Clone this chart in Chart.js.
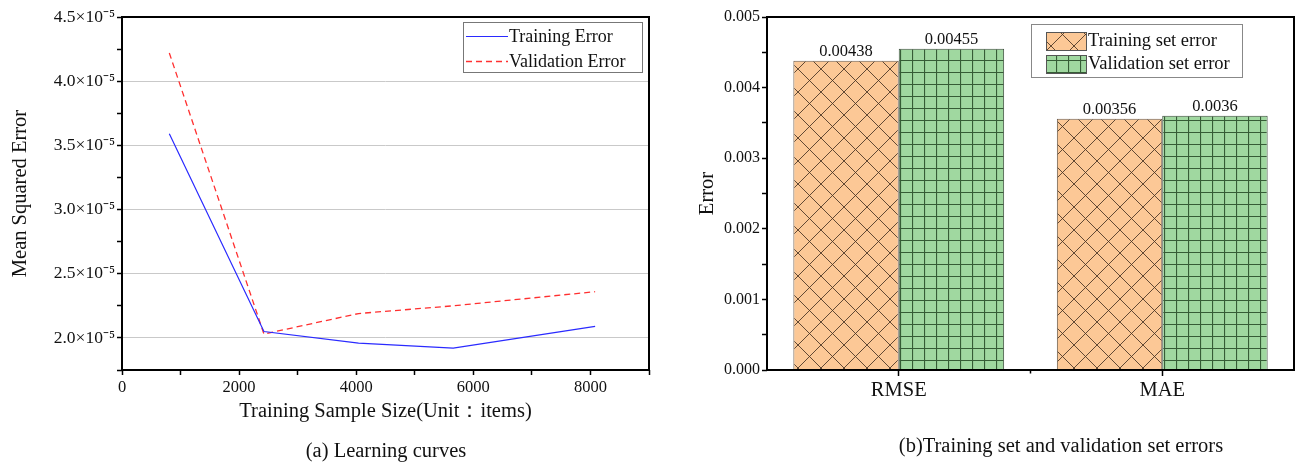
<!DOCTYPE html>
<html><head><meta charset="utf-8">
<script src="https://cdn.jsdelivr.net/npm/chart.js@4.4.1/dist/chart.umd.min.js"></script>
<style>
html,body{margin:0;padding:0;background:#fff;}
#wrap{position:relative;width:1306px;height:464px;overflow:hidden;font-family:'Liberation Serif','Times New Roman',serif;color:#111;background:#fff}
#c1{position:absolute;left:0;top:0}
#c2{position:absolute;left:660px;top:0}
.cap{position:absolute;font-size:20.5px;white-space:nowrap;transform:translate(-50%,-50%)}
</style></head><body>
<div id="wrap">
<canvas id="c1" width="660" height="464"></canvas>
<canvas id="c2" width="646" height="464"></canvas>
<div class="cap" style="left:386px;top:450px">(a) Learning curves</div>
<div class="cap" style="left:1061px;top:445px">(b)Training set and validation set errors</div>
</div>
<script>
// ---- data: learning curves ----
const sampleSizes = [808, 2424, 4040, 5656, 8080];
const trainingError = [3.59e-5, 2.05e-5, 1.96e-5, 1.92e-5, 2.09e-5];
const validationError = [4.22e-5, 2.03e-5, 2.19e-5, 2.25e-5, 2.36e-5];
const lineSeriesNames = ['Training Error', 'Validation Error'];
const lineXTitle = 'Training Sample Size(Unit\uFF1Aitems)';
const lineYTitle = 'Mean Squared Error';

// ---- data: error bars ----
const metricCategories = ['RMSE', 'MAE'];
const trainingSetError = [0.00438, 0.00356];
const validationSetError = [0.00455, 0.0036];
const barSeriesNames = ['Training set error', 'Validation set error'];
const barYTitle = 'Error';

const FONT = "'Liberation Serif','Times New Roman',serif";
const TXT = '#111';
Chart.defaults.font.family = FONT;
Chart.defaults.color = TXT;

function xPattern(bg, line, size) {
  const c = document.createElement('canvas'); c.width = c.height = size;
  const g = c.getContext('2d');
  g.fillStyle = bg; g.fillRect(0, 0, size, size);
  g.strokeStyle = line; g.lineWidth = 1;
  g.beginPath();
  g.moveTo(-2, -2); g.lineTo(size + 2, size + 2);
  g.moveTo(-2, size + 2); g.lineTo(size + 2, -2);
  g.stroke();
  return g.createPattern(c, 'repeat');
}
function gridPattern(bg, line, size) {
  const c = document.createElement('canvas'); c.width = c.height = size;
  const g = c.getContext('2d');
  g.fillStyle = bg; g.fillRect(0, 0, size, size);
  g.strokeStyle = line; g.lineWidth = 1.2;
  g.beginPath();
  g.moveTo(0.5, 0); g.lineTo(0.5, size);
  g.moveTo(0, 0.5); g.lineTo(size, 0.5);
  g.stroke();
  return g.createPattern(c, 'repeat');
}

const framePlugin = {
  id: 'frame',
  afterDatasetsDraw(chart) {
    const {ctx, chartArea: a} = chart;
    ctx.save();
    ctx.strokeStyle = '#000'; ctx.lineWidth = 2;
    ctx.strokeRect(a.left, a.top, a.right - a.left, a.bottom - a.top);
    ctx.restore();
  }
};

// legend for line chart
const lineLegendPlugin = {
  id: 'lineLegend',
  afterDraw(chart) {
    const {ctx, chartArea: a} = chart;
    const w = 179, h = 50;
    const x0 = a.right - 7 - w, y0 = a.top + 5;
    ctx.save();
    ctx.fillStyle = '#fff'; ctx.fillRect(x0, y0, w, h);
    ctx.strokeStyle = '#777'; ctx.lineWidth = 1;
    ctx.strokeRect(x0 + 0.5, y0 + 0.5, w, h);
    ctx.font = '18px ' + FONT; ctx.textBaseline = 'middle'; ctx.fillStyle = TXT;
    chart.data.datasets.forEach((ds, i) => {
      const y = y0 + 14.5 + i * 25;
      ctx.strokeStyle = ds.borderColor; ctx.lineWidth = ds.borderWidth;
      ctx.setLineDash(ds.borderDash || []);
      ctx.beginPath(); ctx.moveTo(x0 + 3, y); ctx.lineTo(x0 + 45, y); ctx.stroke();
      ctx.setLineDash([]);
      ctx.fillText(ds.label, x0 + 46, y + 1);
    });
    ctx.restore();
  }
};

const chart1 = new Chart(document.getElementById('c1'), {
  type: 'line',
  data: {
    datasets: [
      { label: lineSeriesNames[0], data: sampleSizes.map((x, i) => ({x, y: trainingError[i]})),
        borderColor: '#2a2aff', borderWidth: 1.2, pointRadius: 0, tension: 0, fill: false },
      { label: lineSeriesNames[1], data: sampleSizes.map((x, i) => ({x, y: validationError[i]})),
        borderColor: '#ff3030', borderWidth: 1.3, borderDash: [6, 4], pointRadius: 0, tension: 0, fill: false }
    ]
  },
  options: {
    responsive: false, animation: false, devicePixelRatio: 1,
    layout: { padding: { top: 17, right: 11, bottom: 40, left: 0 } },
    plugins: { legend: { display: false }, tooltip: { enabled: false } },
    scales: {
      x: {
        type: 'linear', min: 0, max: 9000,
        border: { display: false },
        grid: { drawOnChartArea: false, tickLength: 5, tickColor: '#000', tickWidth: 1.5 },
        ticks: { stepSize: 1000, autoSkip: false, maxRotation: 0, padding: 3, color: TXT, font: { size: 16.5 },
          callback: v => (v % 2000 === 0 && v < 9000) ? String(v) : '' },
        title: { display: true, text: lineXTitle, color: TXT, font: { size: 20.5 }, padding: 0 },
        afterFit: s => { s.height = 54; }
      },
      y: {
        min: 1.75e-5, max: 4.5e-5,
        border: { display: false },
        grid: {
          tickLength: 5, tickWidth: 1.5, tickColor: '#000', lineWidth: 1,
          color: c => {
            const v = c.tick ? c.tick.value : 0; const r = v * 2e5;
            const major = Math.abs(r - Math.round(r)) < 1e-6;
            return (major && v > 1.8e-5 && v < 4.4e-5) ? '#c9c9c9' : 'rgba(0,0,0,0)';
          }
        },
        ticks: { stepSize: 0.25e-5, autoSkip: false, padding: 2, color: TXT, font: { size: 17.5 },
          callback: v => { const r = v * 2e5; return Math.abs(r - Math.round(r)) < 1e-6 ? (v * 1e5).toFixed(1) + '\u00D710\u207B\u2075' : ''; } },
        title: { display: true, text: lineYTitle, color: TXT, font: { size: 20.5 }, padding: { top: 8, bottom: 0 } },
        afterFit: s => { s.width = 122; }
      }
    }
  },
  plugins: [framePlugin, lineLegendPlugin]
});

// ---- bar chart ----
const orangePat = xPattern('#fcc896', 'rgba(70,50,35,0.85)', 23);
const greenPat = gridPattern('#a0d8a0', 'rgba(35,70,35,0.85)', 12);

const barLabelPlugin = {
  id: 'barLabels',
  afterDatasetsDraw(chart) {
    const {ctx} = chart;
    ctx.save();
    ctx.font = '16.5px ' + FONT; ctx.fillStyle = TXT; ctx.textAlign = 'center'; ctx.textBaseline = 'bottom';
    chart.data.datasets.forEach((ds, di) => {
      chart.getDatasetMeta(di).data.forEach((bar, i) => {
        ctx.fillText(String(ds.data[i]), bar.x, bar.y - 1);
      });
    });
    ctx.restore();
  }
};
const minorCatTick = {
  id: 'minorCatTick',
  afterDatasetsDraw(chart) {
    const {ctx} = chart; const xs = chart.scales.x; const a = chart.chartArea;
    ctx.save(); ctx.strokeStyle = '#000'; ctx.lineWidth = 1.5;
    for (let i = 1; i < chart.data.labels.length; i++) {
      const x = (xs.getPixelForValue(i - 1) + xs.getPixelForValue(i)) / 2;
      ctx.beginPath(); ctx.moveTo(x, a.bottom); ctx.lineTo(x, a.bottom + 3.5); ctx.stroke();
    }
    ctx.restore();
  }
};
const barLegendPlugin = {
  id: 'barLegend',
  afterDraw(chart) {
    const {ctx, chartArea: a} = chart;
    const w = 211, h = 53;
    const x0 = a.right - 52 - w, y0 = a.top + 7;
    ctx.save();
    ctx.fillStyle = '#fff'; ctx.fillRect(x0, y0, w, h);
    ctx.strokeStyle = '#888'; ctx.lineWidth = 1;
    ctx.strokeRect(x0 + 0.5, y0 + 0.5, w, h);
    ctx.font = '18.5px ' + FONT; ctx.textBaseline = 'middle';
    chart.data.datasets.forEach((ds, i) => {
      const y = y0 + 8 + i * 23;
      ctx.fillStyle = ds.backgroundColor; ctx.fillRect(x0 + 15, y, 40, 18);
      ctx.strokeStyle = '#555'; ctx.strokeRect(x0 + 15.5, y + 0.5, 40, 18);
      ctx.fillStyle = TXT; ctx.fillText(ds.label, x0 + 57, y + 9.5);
    });
    ctx.restore();
  }
};

const chart2 = new Chart(document.getElementById('c2'), {
  type: 'bar',
  data: {
    labels: metricCategories,
    datasets: [
      { label: barSeriesNames[0], data: trainingSetError, backgroundColor: orangePat, borderColor: '#6a5a4a', borderWidth: 1,
        categoryPercentage: 0.8, barPercentage: 1.0 },
      { label: barSeriesNames[1], data: validationSetError, backgroundColor: greenPat, borderColor: '#3a4a3a', borderWidth: 1,
        categoryPercentage: 0.8, barPercentage: 1.0 }
    ]
  },
  options: {
    responsive: false, animation: false, devicePixelRatio: 1,
    layout: { padding: { top: 17, right: 12, bottom: 54, left: 0 } },
    plugins: { legend: { display: false }, tooltip: { enabled: false } },
    scales: {
      x: {
        border: { display: false },
        grid: { offset: false, drawOnChartArea: false, tickLength: 6, tickColor: '#000', tickWidth: 1.5 },
        ticks: { padding: 2, color: TXT, font: { size: 20.5 } },
        afterFit: s => { s.height = 40; }
      },
      y: {
        min: 0, max: 0.005,
        border: { display: false },
        grid: { drawOnChartArea: false, tickLength: 5, tickColor: '#000', tickWidth: 1.5 },
        ticks: { stepSize: 0.0005, autoSkip: false, padding: 2, color: TXT, font: { size: 16 },
          callback: v => { const r = v * 1000; return Math.abs(r - Math.round(r)) < 1e-6 ? v.toFixed(3) : ''; } },
        title: { display: true, text: barYTitle, color: TXT, font: { size: 20.5 }, padding: { top: 35, bottom: 0 } },
        afterFit: s => { s.width = 107; }
      }
    }
  },
  plugins: [framePlugin, barLabelPlugin, minorCatTick, barLegendPlugin]
});
</script>
</body></html>
